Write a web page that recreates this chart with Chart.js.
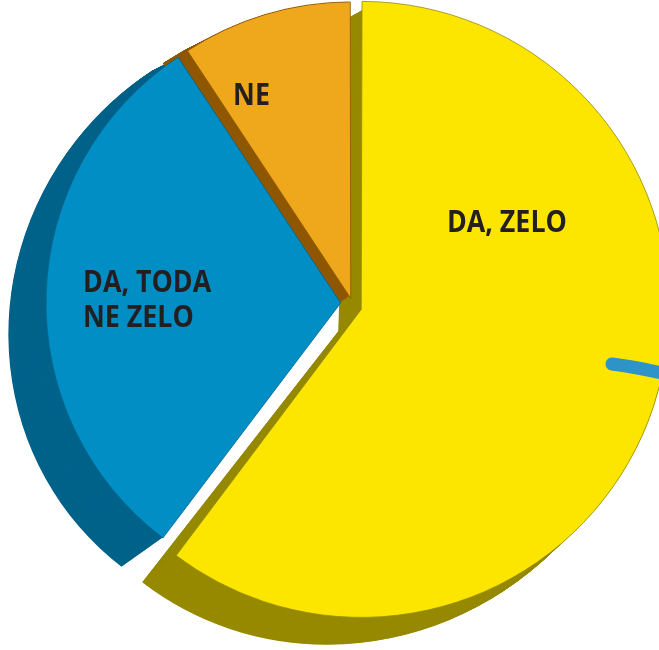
<!DOCTYPE html>
<html><head><meta charset="utf-8">
<script src="https://cdn.jsdelivr.net/npm/chart.js@4/dist/chart.umd.min.js"></script>
<style>
html,body{margin:0;padding:0;background:#fff;}
#wrap{position:relative;width:659px;height:650px;overflow:hidden;}
#wrap canvas{position:absolute;left:0;top:0;display:block;}
</style>
</head><body>
<div id="wrap">
<canvas id="back" width="659" height="650"></canvas>
<canvas id="front" width="659" height="650"></canvas>
</div>
<script>
// ---- data ----
const categories = ['DA, ZELO', 'DA, TODA NE ZELO', 'NE'];
const shares = [60.3, 30.4, 9.3];
const labelLines = [['DA, ZELO'], ['DA, TODA', 'NE ZELO'], ['NE']];

// ---- styles ----
const faceColors = ['#fce600', '#008ec4', '#efa71b'];
const depthColors = ['#968a00', '#00638a', '#8f5700'];

// perspective extrusion (affine: back face = front + d(p))
const DX = [0.0314, -0.0318, -29.3];
const DY = [-0.0057, 0.034, 11.9];

function arcShift(el) {
  const p = el.getProps(['startAngle', 'endAngle', 'circumference'], true);
  const off = (el.options.offset || 0) / 4;
  const half = (p.startAngle + p.endAngle) / 2;
  const fix = 1 - Math.sin(Math.min(Math.PI, p.circumference || 0));
  const t = off * (1 + fix);
  return { dx: Math.cos(half) * t, dy: Math.sin(half) * t };
}

const depthPlugin = {
  id: 'depth',
  beforeDatasetsDraw(chart, args, opts) {
    const ctx = chart.ctx;
    const meta = chart.getDatasetMeta(0);
    const steps = 70;
    meta.data.forEach((el, i) => {
      if (!opts.show.includes(i)) return;
      const p = el.getProps(['x', 'y', 'startAngle', 'endAngle', 'outerRadius'], true);
      const s = arcShift(el);
      const cx = p.x + s.dx, cy = p.y + s.dy;
      for (let k = steps; k >= 1; k--) {
        const t = k / steps;
        ctx.save();
        ctx.transform(1 + t * DX[0], t * DY[0], t * DX[1], 1 + t * DY[1], t * DX[2], t * DY[2]);
        ctx.beginPath();
        ctx.moveTo(cx, cy);
        ctx.arc(cx, cy, p.outerRadius, p.startAngle, p.endAngle);
        ctx.closePath();
        ctx.fillStyle = depthColors[i];
        ctx.fill();
        ctx.restore();
      }
    });
  }
};

const labelPlugin = {
  id: 'sliceLabels',
  afterDatasetsDraw(chart, args, opts) {
    const ctx = chart.ctx;
    const meta = chart.getDatasetMeta(0);
    const place = [
      { dx: 0.465, dy: -0.261, align: 'center', gap: 0 },
      { dx: -0.874, dy: -0.037, align: 'left', gap: 0.119 },
      { dx: -0.335, dy: -0.650, align: 'center', gap: 0 }
    ];
    ctx.save();
    ctx.font = '700 31px "Open Sans"';
    const squeeze = 120 / ctx.measureText(labelLines[0][0]).width;
    ctx.fillStyle = '#231f20';
    ctx.textBaseline = 'alphabetic';
    meta.data.forEach((el, i) => {
      if (!opts.show.includes(i)) return;
      const p = el.getProps(['x', 'y', 'outerRadius'], true);
      const s = arcShift(el);
      const r = p.outerRadius;
      const ax = p.x + s.dx + place[i].dx * r;
      const ay = p.y + s.dy + place[i].dy * r;
      labelLines[i].forEach((line, j) => {
        ctx.save();
        ctx.translate(ax, ay + j * place[i].gap * r);
        ctx.scale(squeeze, 1);
        ctx.textAlign = place[i].align;
        ctx.fillText(line, 0, 0);
        ctx.restore();
      });
    });
    if (opts.show.includes(0)) {
      // blue leader stroke entering from the right over the yellow slice
      const el = meta.data[0];
      const p = el.getProps(['x', 'y', 'outerRadius'], true);
      const s = arcShift(el);
      const r = p.outerRadius;
      const ox = p.x + s.dx, oy = p.y + s.dy;
      ctx.beginPath();
      ctx.moveTo(ox + 0.812 * r, oy + 0.175 * r);
      ctx.quadraticCurveTo(ox + 0.93 * r, oy + 0.19 * r, ox + 1.102 * r, oy + 0.235 * r);
      ctx.strokeStyle = '#2e93c6';
      ctx.lineWidth = 13;
      ctx.lineCap = 'round';
      ctx.stroke();
    }
    ctx.restore();
  }
};

function buildPie(id, show, radius, padding, offsets) {
  const on = (i) => show.includes(i);
  return new Chart(document.getElementById(id), {
    type: 'pie',
    data: {
      labels: categories,
      datasets: [{
        data: shares,
        backgroundColor: faceColors.map((c, i) => on(i) ? c : 'rgba(0,0,0,0)'),
        borderColor: depthColors.map((c, i) => on(i) ? c : 'rgba(0,0,0,0)'),
        borderWidth: categories.map((c, i) => on(i) ? 0.8 : 0),
        offset: offsets,
        radius: radius
      }]
    },
    options: {
      responsive: false,
      animation: false,
      radius: radius,
      layout: { padding: padding },
      plugins: {
        legend: { display: false },
        tooltip: { enabled: false },
        depth: { show: show },
        sliceLabels: { show: show }
      }
    },
    plugins: [depthPlugin, labelPlugin]
  });
}

// back layer: the large exploded slice
buildPie('back', [0], 303, { left: 54, right: 0, top: 0, bottom: 34.4 }, [20, 0, 0]);
// front layer: the two smaller slices
buildPie('front', [1, 2], 294, { left: 45.4, right: 0, top: 0, bottom: 43.3 }, [0, 46.2, 21.2]);
</script>
</body></html>
